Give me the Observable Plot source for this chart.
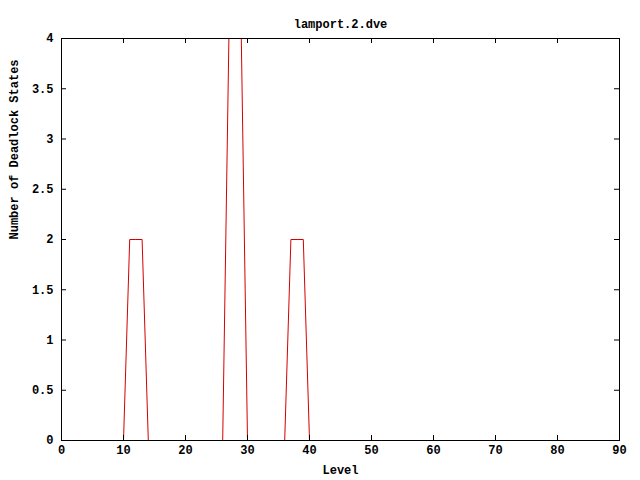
<!DOCTYPE html>
<html>
<head>
<meta charset="utf-8">
<script src="https://cdn.jsdelivr.net/npm/d3@7"></script>
<script src="https://cdn.jsdelivr.net/npm/@observablehq/plot@0.6"></script>
<style>
  html, body { margin: 0; padding: 0; background: #fff; }
</style>
</head>
<body>
<div id="chart"></div>
<script>
const title = "lamport.2.dve";
const xLabel = "Level";
const yLabel = "Number of Deadlock States";
const levels = [0, 10, 11, 12, 13, 14, 26, 27, 28, 29, 30, 36, 37, 38, 39, 40, 88];
const deadlocks = [0, 0, 2, 2, 2, 0, 0, 4, 4, 4, 0, 0, 2, 2, 2, 0, 0];
const xTicks = [0, 10, 20, 30, 40, 50, 60, 70, 80, 90];
const yTicks = [0, 0.5, 1, 1.5, 2, 2.5, 3, 3.5, 4];

const data = levels.map((l, i) => ({level: l, count: deadlocks[i]}));
const font = "Liberation Mono, DejaVu Sans Mono, monospace";
const txt = {fontFamily: font, fontSize: 12, fontWeight: "bold", fill: "#000"};
const tickLen = 5;
const mL = 61, mR = 21, mT = 38, mB = 40;
const frameW = 640 - mL - mR;
const frameH = 480 - mT - mB;

const chart = Plot.plot({
  width: 640,
  height: 480,
  marginLeft: mL,
  marginRight: mR,
  marginTop: mT,
  marginBottom: mB,
  x: {domain: [0, 90], axis: null},
  y: {domain: [0, 4], axis: null},
  style: {background: "#fff", fontFamily: font},
  marks: [
    Plot.line(data, {x: "level", y: "count", stroke: "#d40000", strokeWidth: 1}),
    Plot.tickX(xTicks, {x: d => d, insetTop: frameH - tickLen, stroke: "#000"}),
    Plot.tickX(xTicks, {x: d => d, insetBottom: frameH - tickLen, stroke: "#000"}),
    Plot.tickY(yTicks, {y: d => d, insetRight: frameW - tickLen, stroke: "#000"}),
    Plot.tickY(yTicks, {y: d => d, insetLeft: frameW - tickLen, stroke: "#000"}),
    Plot.frame({stroke: "#000", strokeWidth: 1}),
    Plot.text(xTicks, {x: d => d, text: d => String(d), frameAnchor: "bottom", dy: 13, ...txt}),
    Plot.text(yTicks, {y: d => d, text: d => String(d), frameAnchor: "left", dx: -8, textAnchor: "end", ...txt}),
    Plot.text([title], {text: d => d, frameAnchor: "top", dy: -19, ...txt}),
    Plot.text([xLabel], {text: d => d, frameAnchor: "bottom", dy: 33, ...txt}),
    Plot.text([yLabel], {text: d => d, frameAnchor: "left", dx: -47, rotate: -90, ...txt})
  ]
});
document.getElementById("chart").appendChild(chart);
</script>
</body>
</html>
